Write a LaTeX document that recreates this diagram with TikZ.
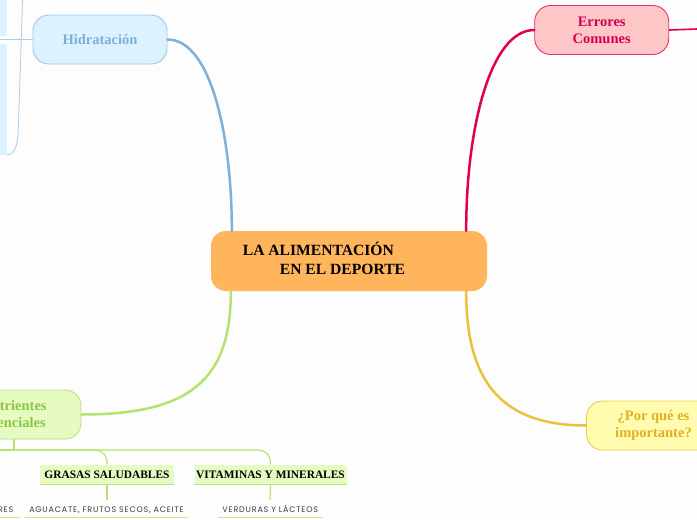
\documentclass[tikz,border=0pt]{standalone}
\usepackage{fontspec}
\setmainfont{Liberation Serif}
\newfontfamily\labfont[LetterSpace=10]{Poppins}
\usetikzlibrary{calc}
\definecolor{bgc}{HTML}{FDFDFD}
\definecolor{corefill}{HTML}{FFB55B}
\definecolor{bluel}{HTML}{7DB1D9}
\definecolor{bluelite}{HTML}{A9CEE9}
\definecolor{bluefill}{HTML}{DDF2FF}
\definecolor{blueborder}{HTML}{9EC8E6}
\definecolor{bluetext}{HTML}{7EAFD7}
\definecolor{redl}{HTML}{E0004E}
\definecolor{redfill}{HTML}{FDC7C8}
\definecolor{redborder}{HTML}{E8336A}
\definecolor{redtext}{HTML}{D4004F}
\definecolor{yell}{HTML}{EFC039}
\definecolor{yelfill}{HTML}{FFFBAF}
\definecolor{yelborder}{HTML}{F1CA48}
\definecolor{yeltext}{HTML}{E3B020}
\definecolor{grnl}{HTML}{B6E36C}
\definecolor{grnfill}{HTML}{E6FBC2}
\definecolor{grnborder}{HTML}{B9E47A}
\definecolor{grntext}{HTML}{8DC546}
\definecolor{grnline}{HTML}{C4EA8C}
\definecolor{labtext}{HTML}{3A3A3A}
\begin{document}
\begin{tikzpicture}[x=1pt,y=-1pt,
  topic/.style={rounded corners=16pt, draw, line width=0.9pt, minimum width=134pt,
    minimum height=49pt, inner sep=0pt, align=center,
    font=\fontsize{14.5}{17}\selectfont\bfseries},
  subbox/.style={fill=grnfill, minimum height=20pt, inner sep=0pt,
    font=\fontsize{11.4}{13}\selectfont\bfseries},
  leaf/.style={inner sep=0pt, text=labtext, font=\labfont\fontsize{8}{9}\selectfont},
  conn/.style={line width=2.5pt, line cap=round},
  thinl/.style={line width=1.2pt, draw=grnl}]
\fill[bgc] (0,0) rectangle (697,520);
\useasboundingbox (0,0) rectangle (697,520);

% cut-off pieces at the left top
\fill[bluefill] (0,0) rectangle (7,36);
\fill[bluefill] (0,44) rectangle (7,155);
\draw[bluelite, line width=0.8pt] (22.5,0) .. controls (21,50) and (19,110) .. (18,135)
   .. controls (17,150) and (12,155) .. (7,155);

% central node
\node[fill=corefill, rounded corners=15pt, minimum width=276pt, minimum height=60pt,
      inner sep=0pt, font=\fontsize{15.6}{19}\selectfont\bfseries] (c) at (349,261)
  {\hspace*{-50pt}\begin{tabular}{@{}l@{}}LA ALIMENTACIÓN\\\hspace*{37pt}EN EL DEPORTE\end{tabular}};

% main topics
\node[topic, fill=bluefill, draw=blueborder, text=bluetext] (h) at (100,39.5) {Hidratación};
\node[topic, fill=redfill, draw=redborder, text=redtext] (e) at (601.7,30) {Errores\\Comunes};
\node[topic, fill=yelfill, draw=yelborder, text=yeltext] (p) at (653.5,425.5) {¿Por qué es\\importante?};
\node[topic, fill=grnfill, draw=grnborder, text=grntext] (n) at (14,414.5) {Nutrientes\\Esenciales};

\coordinate (hl) at (0,39.5);
\coordinate (er) at (697,29);
\draw[bluelite, line width=1pt] (h.west) -- (hl);
\draw[redl, line width=1.6pt] (e.east) -- (er);

% connectors
\draw[conn, bluel] (h.east) .. controls (212,39.5) and (232,140) .. ([xshift=21pt]c.north west);
\draw[conn, redl] (e.west) .. controls (490,30) and (466,130) .. ([xshift=-21pt]c.north east);
\draw[conn, yell] ([xshift=-21pt]c.south east) .. controls (466,380) and (500,425.5) .. (p.west);
\draw[conn, grnl] ([xshift=20pt]c.south west) .. controls (231,380) and (190,414.5) .. (n.east);

% sub-topics of Nutrientes
\node[subbox, minimum width=134pt] (g) at (107,474.5) {GRASAS SALUDABLES};
\node[subbox, minimum width=152pt] (v) at (270.5,474.5) {VITAMINAS Y MINERALES};
\draw[grnborder, line width=1.3pt] (g.south west) -- (g.south east);
\draw[grnborder, line width=1.3pt] (v.south west) -- (v.south east);

\coordinate (nb) at (14,450);
\coordinate (nl) at (0,450);
\draw[thinl] (n.south) -- (nb);
\draw[thinl] (nb) -- (nl);
\draw[thinl, rounded corners=12pt] (nb) -| (g.north);
\draw[thinl, rounded corners=12pt] (nb) -| (v.north);

% leaves
\node[leaf, anchor=base] (l1) at (106.5,512.3) {AGUACATE, FRUTOS SECOS, ACEITE};
\node[leaf, anchor=base] (l2) at (270.3,512.3) {VERDURAS Y LÁCTEOS};
\node[leaf, anchor=base east] (l0) at (13.5,512.3) {RES};
\coordinate (g1) at (107,500);
\coordinate (v1) at (270,500);
\draw[thinl] (g.south) -- (g1);
\draw[thinl] (v.south) -- (v1);
\draw[grnline, line width=1.3pt] ([xshift=-4.5pt]l1.west |- 0,517.5) -- ([xshift=4.5pt]l1.east |- 0,517.5);
\draw[grnline, line width=1.3pt] ([xshift=-4.5pt]l2.west |- 0,517.5) -- ([xshift=4.5pt]l2.east |- 0,517.5);
\draw[grnline, line width=1.3pt] (0,517.5) -- ([xshift=6pt]l0.east |- 0,517.5);
\end{tikzpicture}
\end{document}
